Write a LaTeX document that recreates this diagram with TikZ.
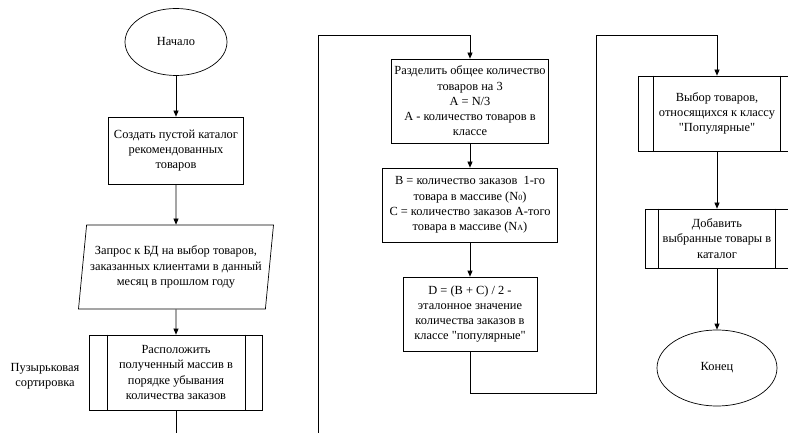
\documentclass[tikz,border=0pt]{standalone}
\usepackage{fontspec}
\setmainfont{Liberation Serif}
\usetikzlibrary{shapes.geometric, arrows.meta}
\begin{document}
\begin{tikzpicture}[x=1pt, y=-1pt,
    every node/.style={font=\fontsize{12.4}{15.2}\selectfont, align=center, inner sep=2pt},
    flowbox/.style={draw, rectangle, line width=0.7pt},
    flowterm/.style={draw, ellipse, line width=0.7pt},
    flowio/.style={draw, trapezium, trapezium left angle=80, trapezium right angle=100,
        trapezium stretches body, line width=0.7pt},
    flowarrow/.style={-{Triangle[length=6pt, width=5pt]}, line width=0.7pt},
    flowline/.style={line width=0.7pt}]
\useasboundingbox (0,0) rectangle (788,433);
% Column 1
\node[flowterm, minimum width=102, minimum height=67] (start) at (176,42) {Начало};
\node[flowbox, minimum width=135, minimum height=67] (catalog) at (176,150.5)
    {Создать пустой каталог\\рекомендованных\\товаров};
\node[flowio, minimum width=195, minimum height=84] (query) at (176,267)
    {Запрос к БД на выбор товаров,\\заказанных клиентами в данный\\месяц в прошлом году};
\node[flowbox, minimum width=173, minimum height=75] (sort) at (176,372.5)
    {Расположить\\полученный массив в\\порядке убывания\\количества заказов};
\node (bubble) at (45,376) {Пузырьковая\\сортировка};
% Column 2
\node[flowbox, minimum width=157, minimum height=84] (divide) at (470,101)
    {Разделить общее количество\\товаров на 3\\A = N/3\\A - количество товаров в\\классе};
\node[flowbox, minimum width=175, minimum height=74] (bc) at (470,205)
    {B = количество заказов\ \ 1-го\\товара в массиве (N{\footnotesize 0})\\C = количество заказов А-того\\товара в массиве (N{\footnotesize A})};
\node[flowbox, minimum width=134, minimum height=74] (dval) at (470,314)
    {D = (B + C) / 2 -\\эталонное значение\\количества заказов в\\классе \textquotedbl популярные\textquotedbl};
% Column 3
\node[flowbox, minimum width=158, minimum height=75] (select) at (717,113.5)
    {Выбор товаров,\\относящихся к классу\\\textquotedbl Популярные\textquotedbl};
\node[flowbox, minimum width=144, minimum height=59] (add) at (717,238.5)
    {Добавить\\выбранные товары в\\каталог};
\node[flowterm, minimum width=120, minimum height=76] (end) at (717,368) {Конец};
% Inner lines of predefined processes
\foreach \n/\d in {sort/18, select/16, add/14}{
    \draw[line width=0.7pt] ([xshift=\d]\n.north west) -- ([xshift=\d]\n.south west)
        ([xshift=-\d]\n.north east) -- ([xshift=-\d]\n.south east);
}
% Connectors
\coordinate (cut1) at (176,433);
\coordinate (cut2) at (318,433);
\coordinate (turn2) at (318,35);
\coordinate (low3) at (596,393);
\coordinate (turn3) at (596,35);
\draw[flowarrow] (start) -- (catalog);
\draw[flowarrow] (catalog) -- (query);
\draw[flowarrow] (query) -- (sort);
\draw[flowline] (sort) -- (cut1);
\draw[flowarrow] (cut2) -- (turn2) -| (divide.north);
\draw[flowarrow] (divide) -- (bc);
\draw[flowarrow] (bc) -- (dval);
\draw[flowarrow] (dval.south) |- (low3) -- (turn3) -| (select.north);
\draw[flowarrow] (select) -- (add);
\draw[flowarrow] (add) -- (end);
\end{tikzpicture}
\end{document}
